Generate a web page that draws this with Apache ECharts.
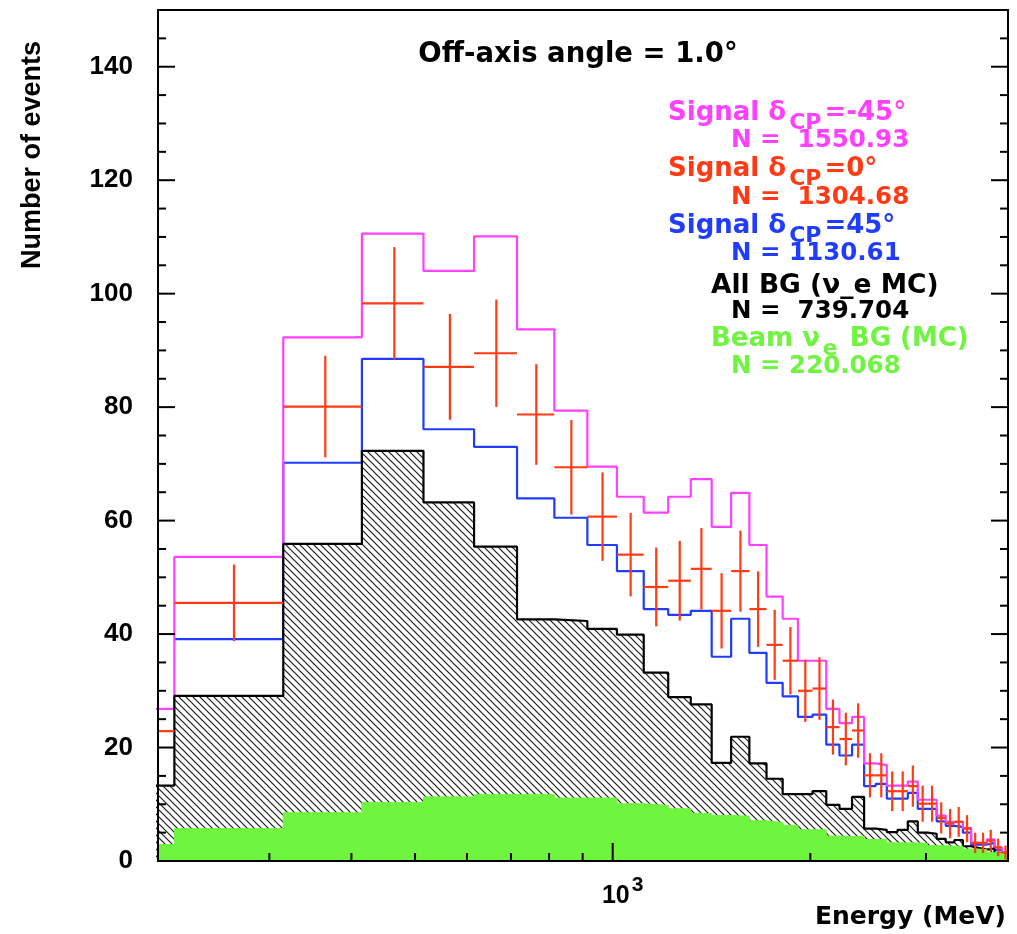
<!DOCTYPE html>
<html>
<head>
<meta charset="utf-8">
<script src="https://cdn.jsdelivr.net/npm/echarts@6/dist/echarts.min.js"></script>
<style>
html,body{margin:0;padding:0;background:#ffffff;}
#chart{width:1017px;height:934px;}
</style>
</head>
<body>
<div id="chart"></div>
<script>
// ---------------- data ----------------
// bin edges in MeV (100 MeV bins)
const binEdges = [115,215,315,415,515,615,715,815,915,1015,1115,1215,1315,1415,1515,1615,1715,1815,1915,2015,
                  2115,2215,2315,2415,2515,2615,2715,2815,2915,3015,3115,3215,3315,3415,3515,3615,3715,3815,3915,4015];
// Signal dCP=-45 (magenta step line)
const sigM45 = [26.8,53.6,92.3,110.6,104.0,110.1,93.7,79.4,69.5,64.2,61.4,64.2,67.3,58.9,64.9,55.7,46.6,42.7,35.3,35.3,
                26.8,24.3,25.4,17.2,16.9,13.3,13.3,14.0,10.8,10.8,8.0,6.9,6.9,5.8,3.2,3.1,3.8,2.4,1.5];
// Signal dCP=0 (red points with errors)
const sig0 = [22.9,45.5,80.1,98.3,87.1,89.5,78.7,69.4,60.7,54.0,48.3,49.4,51.5,44.1,51.1,44.4,38.1,35.3,30.0,30.4,
              23.6,21.5,23.0,15.1,15.1,12.3,12.3,13.2,10.1,10.1,7.6,6.6,6.9,5.7,3.2,3.2,3.6,2.4,1.5];
// Signal dCP=45 (blue step line) - first bin not drawn in the reference
const sig45 = [null,39.1,70.2,88.5,76.1,73.0,63.9,60.5,55.7,51.1,44.4,43.4,44.1,36.0,42.7,36.7,31.4,29.0,25.4,25.8,
               20.5,18.6,20.5,13.2,13.6,11.0,11.0,12.0,9.2,9.2,7.0,6.2,6.0,5.0,2.9,2.9,3.2,1.9,1.2];
// All BG (hatched)
const allBG = [13.3,29.1,55.9,72.3,63.2,55.4,42.6,42.3,40.9,39.9,33.2,28.9,27.6,17.3,21.9,17.2,14.5,11.8,11.8,12.3,
               9.9,9.2,11.3,5.7,5.5,5.1,5.5,7.0,5.0,4.8,3.9,3.3,3.7,2.6,2.3,2.0,2.2,1.4,1.2];
// Beam nu_e BG (green fill)
const beamBG = [2.9,5.7,8.5,10.3,11.3,11.7,11.7,11.1,11.1,10.1,9.8,9.2,8.4,8.0,7.9,7.1,6.8,6.3,5.5,5.5,
                4.4,4.3,4.4,3.8,3.8,3.2,3.2,3.2,3.1,2.7,2.7,2.6,2.6,2.1,2.1,2.0,1.5,1.4,1.2];

const xRange = [203, 4000];
const yRange = [0, 150];
const yLabelStep = 20;
const xMajorTicks = [1000];
const xMinorTicks = [300,400,500,600,700,800,900,2000,3000];
const yMajorTicks = [0,20,40,60,80,100,120,140];
const yMinorTicks = [5,10,15,25,30,35,45,50,55,65,70,75,85,90,95,105,110,115,125,130,135,145];

const titleText = 'Off-axis angle = 1.0°';
const xTitle = 'Energy (MeV)';
const yTitle = 'Number of events';

const MAG = '#ff40ff', RED = '#ff3a14', BLUE = '#1f3cff', GREEN = '#6ff440', BLACK = '#000000';

// legend lines: [rich text, colour, left x, centre y, font size]
const legendLines = [
  ['{m|Signal δ}{s|CP}{m|=-45°}', MAG, 668, 113, 26],
  ['{m|N =  1550.93}', MAG, 731, 141, 24.5],
  ['{m|Signal δ}{s|CP}{m|=0°}', RED, 668, 169, 26],
  ['{m|N =  1304.68}', RED, 731, 198, 24.5],
  ['{m|Signal δ}{s|CP}{m|=45°}', BLUE, 668, 226, 26],
  ['{m|N = 1130.61}', BLUE, 731, 254, 24.5],
  ['{m|All BG (ν_e MC)}', BLACK, 711, 286, 26.5],
  ['{m|N =  739.704}', BLACK, 731, 312, 24.5],
  ['{m|Beam ν}{s|e}{m| BG (MC)}', GREEN, 711, 339, 26],
  ['{m|N = 220.068}', GREEN, 731, 367, 24.5]
];

// ---------------- helpers ----------------
function stepData(vals) {
  const d = vals.map((v, i) => [binEdges[i], v]);
  d.push([binEdges[vals.length], vals[vals.length - 1]]);
  return d;
}
function makeHatch() {
  const s = 7;
  const c = document.createElement('canvas');
  c.width = s; c.height = s;
  const g = c.getContext('2d');
  g.fillStyle = '#ffffff'; g.fillRect(0, 0, s, s);
  g.strokeStyle = '#1a1a1a'; g.lineWidth = 1.2;
  g.beginPath();
  g.moveTo(0, 0); g.lineTo(s, s);
  g.moveTo(-1, s - 1); g.lineTo(1, s + 1);
  g.moveTo(s - 1, -1); g.lineTo(s + 1, 1);
  g.stroke();
  return c;
}
const LEG_FONT = 'DejaVu Sans';
function legendRich(color, size) {
  return {
    m: {fill: color, fontSize: size, fontWeight: 'bold', fontFamily: LEG_FONT},
    s: {fill: color, fontSize: Math.round(size * 0.85), fontWeight: 'bold', fontFamily: LEG_FONT, padding: [20, 3, 0, 3]}
  };
}

const crossData = sig0.map((v, i) => [binEdges[i], binEdges[i + 1], (binEdges[i] + binEdges[i + 1]) / 2, v, Math.sqrt(v)]);
const xTickData = xMinorTicks.map(v => [v, 0, 0]).concat(xMajorTicks.map(v => [v, 0, 1]));
const yTickData = yMinorTicks.map(v => [1000, v, 0]).concat(yMajorTicks.map(v => [1000, v, 1]));

const chart = echarts.init(document.getElementById('chart'), null, {renderer: 'canvas'});

const graphics = [
  {type: 'text', x: 578, y: 55, z: 100,
   style: {text: titleText, fill: '#000', font: 'bold 27.5px "DejaVu Sans"', align: 'center', verticalAlign: 'middle', textAlign: 'center', textVerticalAlign: 'middle'}},
  {type: 'text', x: 1006, y: 917, z: 100,
   style: {text: xTitle, fill: '#000', font: 'bold 25px "DejaVu Sans"', align: 'right', verticalAlign: 'middle', textAlign: 'right', textVerticalAlign: 'middle'}},
  {type: 'text', x: 33, y: 155, rotation: Math.PI / 2, z: 100,
   style: {text: yTitle, fill: '#000', font: 'bold 27px "Liberation Sans"', align: 'center', verticalAlign: 'middle', textAlign: 'center', textVerticalAlign: 'middle'}}
];
legendLines.forEach(l => {
  graphics.push({type: 'text', x: l[2], y: l[3], z: 100,
    style: {text: l[0], rich: legendRich(l[1], l[4]), align: 'left', verticalAlign: 'middle', textAlign: 'left', textVerticalAlign: 'middle'}});
});

const option = {
  animation: false,
  backgroundColor: '#ffffff',
  grid: {left: 158, right: 9, top: 10, bottom: 73, containLabel: false},
  xAxis: {
    type: 'log', logBase: 10, min: xRange[0], max: xRange[1],
    axisLine: {show: false}, axisTick: {show: false}, splitLine: {show: false}, minorTick: {show: false},
    axisLabel: {
      margin: 14,
      formatter: v => (Math.abs(v - 1000) < 1e-6 ? '{b|10}{s|3}' : ''),
      rich: {
        b: {fontSize: 25, fontWeight: 'bold', fontFamily: 'Liberation Sans', color: '#000', padding: [0, 0, 0, 20]},
        s: {fontSize: 21, fontWeight: 'bold', fontFamily: 'Liberation Sans', color: '#000', padding: [0, 0, 22, 2]}
      }
    }
  },
  yAxis: {
    type: 'value', min: yRange[0], max: yRange[1], interval: yLabelStep,
    axisLine: {show: false}, axisTick: {show: false}, splitLine: {show: false},
    axisLabel: {margin: 25, showMaxLabel: false, fontFamily: 'Liberation Sans', fontWeight: 'bold', fontSize: 26, color: '#000'}
  },
  series: [
    {name: 'Signal dCP=45', type: 'line', step: 'end', data: stepData(sig45), symbol: 'none', z: 2,
     lineStyle: {color: BLUE, width: 2.2}, clip: true, silent: true},
    {name: 'Signal dCP=-45', type: 'line', step: 'end', data: stepData(sigM45), symbol: 'none', z: 3,
     lineStyle: {color: MAG, width: 2.2}, clip: true, silent: true},
    {name: 'All BG', type: 'line', step: 'end', data: stepData(allBG), symbol: 'none', z: 4,
     lineStyle: {color: BLACK, width: 2.2}, areaStyle: {color: {image: makeHatch(), repeat: 'repeat'}, opacity: 1},
     clip: true, silent: true},
    {name: 'Beam BG', type: 'line', step: 'end', data: stepData(beamBG), symbol: 'none', z: 5,
     lineStyle: {color: GREEN, width: 1}, areaStyle: {color: GREEN, opacity: 1}, clip: true, silent: true},
    {name: 'Signal dCP=0', type: 'custom', data: crossData, z: 6, clip: true, silent: true,
     encode: {x: [0, 1, 2], y: [3]},
     renderItem: function (params, api) {
       const lo = api.value(0), hi = api.value(1), c = api.value(2), v = api.value(3), e = api.value(4);
       const a = api.coord([lo, v]), b = api.coord([hi, v]);
       const t = api.coord([c, v + e]), u = api.coord([c, Math.max(v - e, 0)]);
       const st = {stroke: RED, lineWidth: 2.2};
       return {type: 'group', children: [
         {type: 'line', shape: {x1: a[0], y1: a[1], x2: b[0], y2: b[1]}, style: st},
         {type: 'line', shape: {x1: t[0], y1: t[1], x2: u[0], y2: u[1]}, style: st}
       ]};
     }},
    {name: 'xticks', type: 'custom', data: xTickData, z: 8, silent: true, encode: {x: 0, y: 1},
     renderItem: function (params, api) {
       const cs = params.coordSys;
       const x = api.coord([api.value(0), 1])[0];
       const len = api.value(2) ? 18 : 8;
       const yb = cs.y + cs.height;
       return {type: 'line', shape: {x1: x, y1: yb, x2: x, y2: yb - len}, style: {stroke: '#000', lineWidth: 2}};
     }},
    {name: 'yticks', type: 'custom', data: yTickData, z: 8, silent: true, encode: {x: 0, y: 1},
     renderItem: function (params, api) {
       const cs = params.coordSys;
       const y = api.coord([1000, api.value(1)])[1];
       const len = api.value(2) ? 17 : 8;
       const xr = cs.x + cs.width;
       return {type: 'group', children: [
         {type: 'line', shape: {x1: cs.x, y1: y, x2: cs.x + len, y2: y}, style: {stroke: '#000', lineWidth: 2}},
         {type: 'line', shape: {x1: xr, y1: y, x2: xr - len, y2: y}, style: {stroke: '#000', lineWidth: 2}}
       ]};
     }},
    {name: 'frame', type: 'custom', data: [[1000, 0]], z: 9, silent: true, encode: {x: 0, y: 1},
     renderItem: function (params) {
       const cs = params.coordSys;
       return {type: 'rect', shape: {x: cs.x, y: cs.y, width: cs.width, height: cs.height},
               style: {fill: null, stroke: '#000', lineWidth: 2}};
     }}
  ],
  graphic: graphics
};
chart.setOption(option);
</script>
</body>
</html>
